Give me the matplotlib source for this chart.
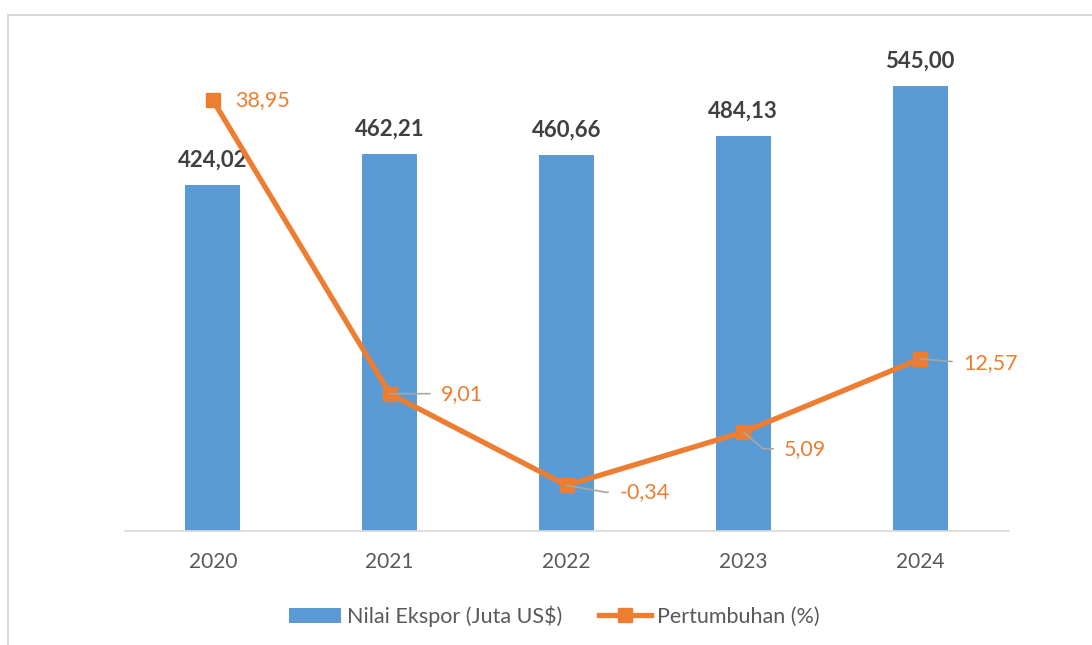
import numpy as np
import matplotlib.pyplot as plt
from matplotlib.patches import Rectangle
from matplotlib.lines import Line2D
from matplotlib.patches import Patch

plt.rcParams['font.family'] = ['Lato', 'DejaVu Sans']

years = ['2020', '2021', '2022', '2023', '2024']
ekspor = [424.02, 462.21, 460.66, 484.13, 545.00]
tumbuh = [38.95, 9.01, -0.34, 5.09, 12.57]
ekspor_lbl = ['424,02', '462,21', '460,66', '484,13', '545,00']
tumbuh_lbl = ['38,95', '9,01', '-0,34', '5,09', '12,57']

blue = '#5B9BD5'
orange = '#ED7D31'

fig = plt.figure(figsize=(10.92, 6.45), dpi=100)
# outer chart frame
fig.patches.append(Rectangle((8 / 1092, -0.1), 1.2, 1 - 15 / 645 + 0.1, transform=fig.transFigure,
                             fill=False, edgecolor='#D9D9D9', linewidth=1.5))

ax = fig.add_axes([124.5 / 1092, 1 - 531 / 645, 884 / 1092, 490 / 645])
x = np.arange(len(years))
ax.bar(x, ekspor, width=0.31, color=blue, zorder=2)
ax.set_xlim(-0.5, len(years) - 0.5)
ax.set_ylim(0, 600)
ax.set_yticks([])
for s in ['top', 'left', 'right']:
    ax.spines[s].set_visible(False)
ax.spines['bottom'].set_color('#D9D9D9')
ax.spines['bottom'].set_linewidth(1.2)
ax.set_xticks(x, years)
ax.tick_params(axis='x', length=0, pad=15, labelsize=15, labelcolor='#595959')
for xi, v, t in zip(x, ekspor, ekspor_lbl):
    ax.annotate(t, (xi, v), xytext=(0, 10), textcoords='offset points', ha='center', va='bottom',
                fontsize=16, fontweight='bold', color='#404040')

ax2 = ax.twinx()
ax2.set_ylim(-5, 45)
ax2.axis('off')
ax2.plot(x, tumbuh, color=orange, linewidth=3.8, marker='s', markersize=10, zorder=3)

# label offsets (points) for growth labels, and leader line shapes
offs = [(16, 0), (37, 0), (38, -5), (29.5, -12), (31, -3)]
conns = [None, 'arc3', 'angle,angleA=0,angleB=-10,rad=0', 'angle,angleA=0,angleB=-40,rad=0',
         'angle,angleA=0,angleB=-5,rad=0']
for i, (xi, v, t) in enumerate(zip(x, tumbuh, tumbuh_lbl)):
    dx, dy = offs[i]
    if conns[i] is None:
        ax2.annotate(t, (xi, v), xytext=(dx, dy), textcoords='offset points', ha='left', va='center',
                     fontsize=15.5, color=orange)
    else:
        ax2.annotate(t, (xi, v), xytext=(dx, dy), textcoords='offset points', ha='left', va='center',
                     fontsize=15.5, color=orange, zorder=4,
                     arrowprops=dict(arrowstyle='-', color='#A6A6A6', lw=1.2, shrinkA=6, shrinkB=0,
                                     relpos=(0, 0.5), connectionstyle=conns[i]))

handles = [Patch(facecolor=blue, edgecolor='none'),
           Line2D([0], [0], color=orange, lw=3.8, marker='s', markersize=10)]
fig.legend(handles, ['Nilai Ekspor (Juta US$)', 'Pertumbuhan (%)'], loc='center left',
           bbox_to_anchor=(270 / 1092, 1 - 616 / 645), ncol=2, frameon=False, fontsize=15.5,
           labelcolor='#595959', handlelength=2.4, handletextpad=0.28, columnspacing=1.7)

fig.savefig('out.png', dpi=100)
